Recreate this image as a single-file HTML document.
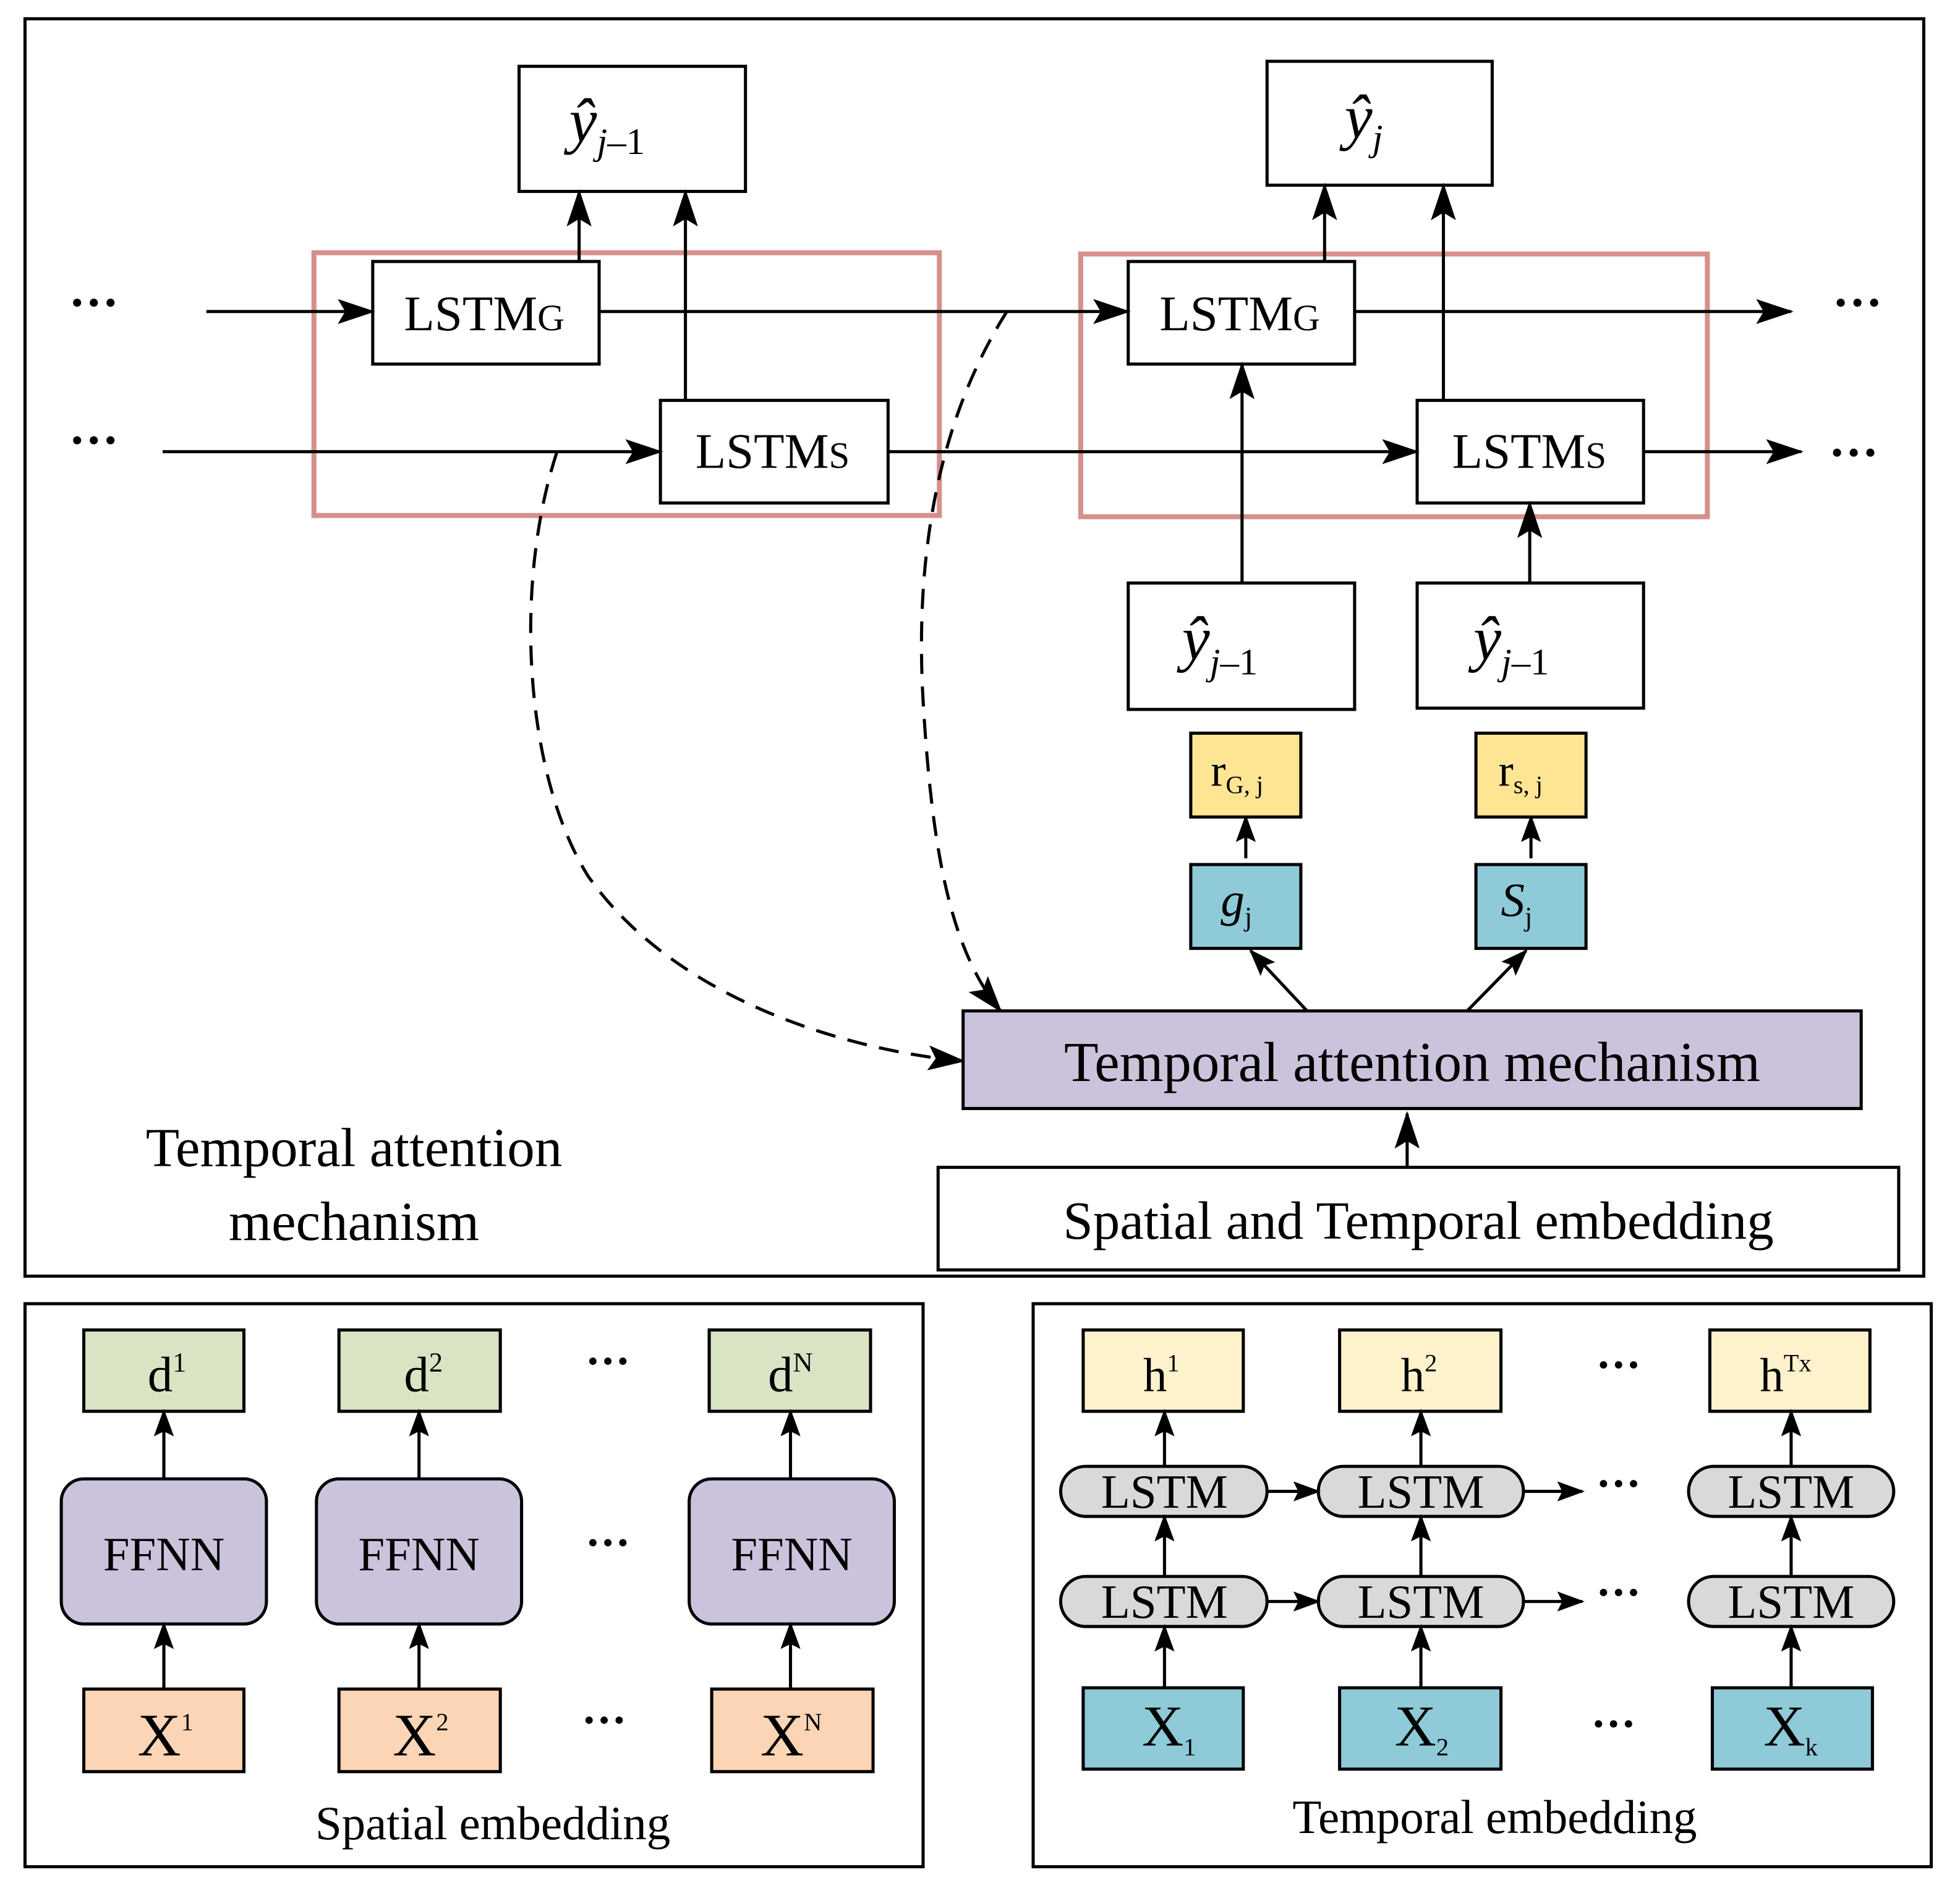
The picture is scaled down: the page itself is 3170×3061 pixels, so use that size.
<!DOCTYPE html>
<html><head><meta charset="utf-8"><style>
html,body{margin:0;padding:0;background:#fff;}
svg{display:block}
text{font-family:"Liberation Serif",serif;fill:#000}
</style></head><body>
<svg width="3170" height="3061" viewBox="0 0 1567 1513" preserveAspectRatio="none" xmlns="http://www.w3.org/2000/svg">
<defs>
<marker id="ar" viewBox="0 0 30 20" refX="28" refY="10" markerWidth="30" markerHeight="20" orient="auto" markerUnits="userSpaceOnUse">
<path d="M0,0 L30,10 L0,20 L6,10 Z" fill="#000"/></marker>
<marker id="as" viewBox="0 0 22 16" refX="20" refY="8" markerWidth="22" markerHeight="16" orient="auto" markerUnits="userSpaceOnUse">
<path d="M0,0 L22,8 L0,16 L4,8 Z" fill="#000"/></marker>
</defs>
<g fill="none" stroke="#000" stroke-width="2.5">
<rect x="20" y="15" width="1518" height="1005"/>
<rect x="20" y="1042" width="718" height="450"/>
<rect x="826" y="1042" width="718" height="450"/>
<rect x="415" y="53" width="181" height="100"/>
<rect x="1013" y="49" width="180" height="99"/>
<rect x="298" y="209" width="181" height="82"/>
<rect x="528" y="320" width="182" height="82"/>
<rect x="902" y="209" width="181" height="82"/>
<rect x="1133" y="320" width="181" height="82"/>
<rect x="902" y="466" width="181" height="101"/>
<rect x="1133" y="466" width="181" height="100"/>
<rect x="750" y="933" width="768" height="82"/>
</g>
<g fill="none" stroke="#d88f8c" stroke-width="4">
<rect x="251" y="202" width="500" height="210"/>
<rect x="864" y="203" width="501" height="210"/>
</g>
<g stroke="#000" stroke-width="2.5" fill="none" marker-end="url(#ar)">
<line x1="165" y1="249" x2="298" y2="249"/>
<line x1="479" y1="249" x2="902" y2="249"/>
<line x1="1083" y1="249" x2="1432" y2="249"/>
<line x1="130" y1="361" x2="528" y2="361"/>
<line x1="710" y1="361" x2="1133" y2="361"/>
<line x1="1314" y1="361" x2="1440" y2="361"/>
<line x1="463" y1="209" x2="463" y2="153"/>
<line x1="548" y1="320" x2="548" y2="153"/>
<line x1="1059" y1="209" x2="1059" y2="148"/>
<line x1="1154" y1="320" x2="1154" y2="148"/>
<line x1="993" y1="466" x2="993" y2="291"/>
<line x1="1223" y1="466" x2="1223" y2="402"/>
<line x1="1125" y1="933" x2="1125" y2="890"/>
</g>
<g stroke="#000" stroke-width="2.5" fill="none" marker-end="url(#as)">
<line x1="996" y1="686" x2="996" y2="653"/>
<line x1="1224" y1="686" x2="1224" y2="653"/>
<line x1="1045" y1="808" x2="1000" y2="760"/>
<line x1="1173" y1="808" x2="1220" y2="760"/>
</g>
<g stroke="#000" stroke-width="2.5" fill="none" stroke-dasharray="16,10" marker-end="url(#ar)">
<path d="M445,362 C410,470 420,620 470,700 C540,800 680,840 770,848"/>
<path d="M805,249 C760,320 730,420 738,560 C745,680 760,760 800,808"/>
</g>
<g stroke="#000" stroke-width="2.5">
<rect x="952" y="586" width="88" height="67" fill="#fde594"/>
<rect x="1180" y="586" width="88" height="67" fill="#fde594"/>
<rect x="952" y="691" width="88" height="67" fill="#8ecad8"/>
<rect x="1180" y="691" width="88" height="67" fill="#8ecad8"/>
<rect x="770" y="808" width="718" height="78" fill="#cbc3dc"/>
</g>
<g font-size="40">
<text x="323" y="264">LSTM<tspan font-size="30">G</tspan></text>
<text x="556" y="374">LSTM<tspan font-size="30">S</tspan></text>
<text x="927" y="264">LSTM<tspan font-size="30">G</tspan></text>
<text x="1161" y="374">LSTM<tspan font-size="30">S</tspan></text>
</g>
<g font-style="italic" font-size="50">
<text x="455" y="113">ŷ<tspan font-size="30" dy="10">j</tspan><tspan font-size="30" font-style="normal">–1</tspan></text>
<text x="1075" y="110">ŷ<tspan font-size="30" dy="10">j</tspan></text>
<text x="945" y="527">ŷ<tspan font-size="30" dy="12">j</tspan><tspan font-size="30" font-style="normal">–1</tspan></text>
<text x="1178" y="527">ŷ<tspan font-size="30" dy="12">j</tspan><tspan font-size="30" font-style="normal">–1</tspan></text>
</g>
<text x="968" y="628" font-size="36">r<tspan font-size="20" dy="6">G, j</tspan></text>
<text x="1198" y="628" font-size="36">r<tspan font-size="20" dy="6">s, j</tspan></text>
<text x="976" y="732" font-size="38" font-style="italic">g<tspan font-size="22" dy="8" font-style="normal">j</tspan></text>
<text x="1200" y="732" font-size="38" font-style="italic">S<tspan font-size="22" dy="8" font-style="normal">j</tspan></text>
<text x="1129" y="864" font-size="45" text-anchor="middle">Temporal attention mechanism</text>
<text x="1134" y="990" font-size="43" text-anchor="middle">Spatial and Temporal embedding</text>
<text x="283" y="932" font-size="44" text-anchor="middle">Temporal attention</text>
<text x="283" y="991" font-size="44" text-anchor="middle">mechanism</text>
<g font-size="40" font-weight="bold">
<text x="55" y="255">···</text><text x="55" y="365">···</text>
<text x="1465" y="255">···</text><text x="1462" y="375">···</text>
</g>
<g stroke="#000" stroke-width="2.5">
<rect x="67" y="1063" width="128" height="65" fill="#d9e4c4"/>
<rect x="271" y="1063" width="129" height="65" fill="#d9e4c4"/>
<rect x="567" y="1063" width="129" height="65" fill="#d9e4c4"/>
<rect x="49" y="1182" width="164" height="116" rx="18" fill="#cbc3dc"/>
<rect x="253" y="1182" width="164" height="116" rx="18" fill="#cbc3dc"/>
<rect x="551" y="1182" width="164" height="116" rx="18" fill="#cbc3dc"/>
<rect x="67" y="1350" width="128" height="66" fill="#fbd5b5"/>
<rect x="271" y="1350" width="129" height="66" fill="#fbd5b5"/>
<rect x="569" y="1350" width="129" height="66" fill="#fbd5b5"/>
</g>
<g stroke="#000" stroke-width="2.5" marker-end="url(#as)">
<line x1="131" y1="1182" x2="131" y2="1128"/><line x1="335" y1="1182" x2="335" y2="1128"/><line x1="632" y1="1182" x2="632" y2="1128"/>
<line x1="131" y1="1350" x2="131" y2="1298"/><line x1="335" y1="1350" x2="335" y2="1298"/><line x1="632" y1="1350" x2="632" y2="1298"/>
</g>
<g font-size="40">
<text x="118" y="1112">d<tspan font-size="22" dy="-16">1</tspan></text>
<text x="323" y="1112">d<tspan font-size="22" dy="-16">2</tspan></text>
<text x="614" y="1112">d<tspan font-size="22" dy="-16">N</tspan></text>
<text x="131" y="1255" text-anchor="middle" font-size="38">FFNN</text>
<text x="335" y="1255" text-anchor="middle" font-size="38">FFNN</text>
<text x="633" y="1255" text-anchor="middle" font-size="38">FFNN</text>
<text x="110" y="1403" font-size="48">X<tspan font-size="20" dy="-20">1</tspan></text>
<text x="314" y="1403" font-size="48">X<tspan font-size="20" dy="-20">2</tspan></text>
<text x="608" y="1403" font-size="48">X<tspan font-size="20" dy="-20">N</tspan></text>
<text x="394" y="1470" text-anchor="middle" font-size="38">Spatial embedding</text>
<text x="1195" y="1465" text-anchor="middle" font-size="38">Temporal embedding</text>
</g>
<g font-size="36" font-weight="bold">
<text x="468" y="1100">···</text><text x="468" y="1245">···</text><text x="465" y="1387">···</text>
<text x="1276" y="1103">···</text><text x="1276" y="1198">···</text><text x="1276" y="1285">···</text><text x="1272" y="1390">···</text>
</g>
<g stroke="#000" stroke-width="2.5">
<rect x="866" y="1063" width="128" height="65" fill="#fef2cc"/>
<rect x="1071" y="1063" width="129" height="65" fill="#fef2cc"/>
<rect x="1367" y="1063" width="128" height="65" fill="#fef2cc"/>
<rect x="848" y="1172" width="165" height="40" rx="20" fill="#d9d9d9"/>
<rect x="1054" y="1172" width="164" height="40" rx="20" fill="#d9d9d9"/>
<rect x="1350" y="1172" width="164" height="40" rx="20" fill="#d9d9d9"/>
<rect x="848" y="1260" width="165" height="40" rx="20" fill="#d9d9d9"/>
<rect x="1054" y="1260" width="164" height="40" rx="20" fill="#d9d9d9"/>
<rect x="1350" y="1260" width="164" height="40" rx="20" fill="#d9d9d9"/>
<rect x="866" y="1349" width="128" height="65" fill="#8ecad8"/>
<rect x="1071" y="1349" width="129" height="65" fill="#8ecad8"/>
<rect x="1369" y="1349" width="128" height="65" fill="#8ecad8"/>
</g>
<g stroke="#000" stroke-width="2.5" marker-end="url(#as)">
<line x1="931" y1="1172" x2="931" y2="1128"/><line x1="1136" y1="1172" x2="1136" y2="1128"/><line x1="1432" y1="1172" x2="1432" y2="1128"/>
<line x1="931" y1="1260" x2="931" y2="1212"/><line x1="1136" y1="1260" x2="1136" y2="1212"/><line x1="1432" y1="1260" x2="1432" y2="1212"/>
<line x1="931" y1="1349" x2="931" y2="1300"/><line x1="1136" y1="1349" x2="1136" y2="1300"/><line x1="1432" y1="1349" x2="1432" y2="1300"/>
<line x1="1013" y1="1192" x2="1054" y2="1192"/><line x1="1218" y1="1192" x2="1265" y2="1192"/>
<line x1="1013" y1="1280" x2="1054" y2="1280"/><line x1="1218" y1="1280" x2="1265" y2="1280"/>
</g>
<g font-size="38">
<text x="914" y="1112">h<tspan font-size="20" dy="-16">1</tspan></text>
<text x="1120" y="1112">h<tspan font-size="20" dy="-16">2</tspan></text>
<text x="1407" y="1112">h<tspan font-size="20" dy="-16">Tx</tspan></text>
<text x="931" y="1205" text-anchor="middle">LSTM</text><text x="1136" y="1205" text-anchor="middle">LSTM</text><text x="1432" y="1205" text-anchor="middle">LSTM</text>
<text x="931" y="1293" text-anchor="middle">LSTM</text><text x="1136" y="1293" text-anchor="middle">LSTM</text><text x="1432" y="1293" text-anchor="middle">LSTM</text>
<text x="913" y="1395" font-size="46">X<tspan font-size="20" dy="8">1</tspan></text>
<text x="1115" y="1395" font-size="46">X<tspan font-size="20" dy="8">2</tspan></text>
<text x="1410" y="1395" font-size="46">X<tspan font-size="20" dy="8">k</tspan></text>
</g>
</svg>
</body></html>
